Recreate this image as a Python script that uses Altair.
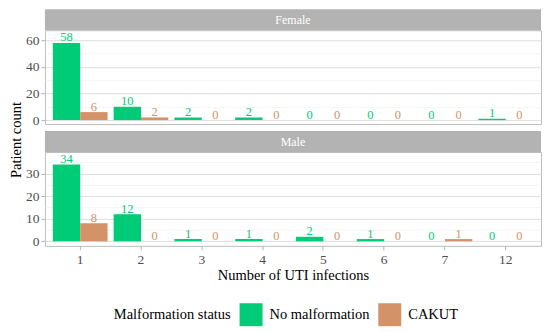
import altair as alt
import pandas as pd

# ---- data ----
infections = ["1", "2", "3", "4", "5", "6", "7", "12"]
statuses = ["No malformation", "CAKUT"]
colors = ["#00CC77", "#D39267"]

female_none = [58, 10, 2, 2, 0, 0, 0, 1]
female_cakut = [6, 2, 0, 0, 0, 0, 0, 0]
male_none = [34, 12, 1, 1, 2, 1, 0, 0]
male_cakut = [8, 0, 0, 0, 0, 0, 1, 0]

FONT = "Liberation Serif"
W = 497
H = 94


def make_df(none_vals, cakut_vals):
    rows = []
    for inf, a, b in zip(infections, none_vals, cakut_vals):
        rows.append({"infections": inf, "status": statuses[0], "count": a})
        rows.append({"infections": inf, "status": statuses[1], "count": b})
    return pd.DataFrame(rows)


def panel(df, label, domain, step, show_x, show_ytitle):
    maxv = domain[1]
    vals = [v for v in range(0, int(maxv) + 1, step // 2)]
    y_axis = alt.Axis(
        values=vals,
        labelExpr=f"datum.value % {step} === 0 ? datum.label : ''",
        tickOpacity={"condition": {"test": f"datum.value % {step} === 0", "value": 1}, "value": 0},
        gridColor={"condition": {"test": f"datum.value % {step} === 0", "value": "#DEDEDE"}, "value": "#EFEFEF"},
        gridWidth={"condition": {"test": f"datum.value % {step} === 0", "value": 1}, "value": 0.6},
        title="Patient count" if show_ytitle else None,
        titleX=-28,
        titleY=109.5,
        titleAngle=270,
        titleAlign="center",
        titleBaseline="middle",
    )
    if show_x:
        x_axis = alt.Axis(title="Number of UTI infections", labelAngle=0, bandPosition=0.5,
                          tickSize=4, labelPadding=3, titlePadding=2)
    else:
        x_axis = alt.Axis(title=None, labels=False, ticks=False, bandPosition=0.5)

    xenc = alt.X("infections:N", sort=infections,
                 scale=alt.Scale(domain=infections, paddingInner=0.1, paddingOuter=0.13),
                 axis=x_axis)
    xoff = alt.XOffset("status:N", sort=statuses, scale=alt.Scale(domain=statuses, paddingInner=0, paddingOuter=0))
    yenc = alt.Y("count:Q", scale=alt.Scale(domain=domain, nice=False, zero=False), axis=y_axis)
    cenc = alt.Color("status:N", sort=statuses,
                     scale=alt.Scale(domain=statuses, range=colors),
                     legend=alt.Legend(title="Malformation status", orient="none",
                                       legendX=69, legendY=273.5, direction="horizontal",
                                       titleOrient="left", symbolType="square", symbolSize=529,
                                       symbolStrokeWidth=0, labelFontSize=14.5, titleFontSize=14.5,
                                       titleFontWeight="normal", labelFont=FONT, titleFont=FONT,
                                       titleColor="#000000", labelColor="#000000",
                                       labelOffset=7, columnPadding=8, titlePadding=8,
                                       titleBaseline="middle", titleAnchor="middle"))

    base = alt.Chart(df)
    bars = base.mark_bar().encode(x=xenc, xOffset=xoff, y=yenc, y2=alt.datum(0), color=cenc)
    texts = base.mark_text(baseline="alphabetic", dy=-1.5, fontSize=12.5, font=FONT).encode(
        x=xenc, xOffset=xoff, y=yenc, color=cenc, text="count:Q")

    sdf = pd.DataFrame({"panel": [label]})
    strip = alt.Chart(sdf).mark_rect(color="#B3B3B3").encode(
        x=alt.value(0), x2=alt.value(W), y=alt.value(-21), y2=alt.value(0))
    stext = alt.Chart(sdf).mark_text(color="white", fontSize=12, font=FONT, baseline="middle").encode(
        x=alt.value(W / 2), y=alt.value(-10.5), text="panel:N")

    return alt.layer(strip, bars, texts, stext).properties(width=W, height=H)


top = panel(make_df(female_none, female_cakut), "Female", [-3.0, 67.5], 20, False, True)
bottom = panel(make_df(male_none, male_cakut), "Male", [-2.0, 39.5], 10, True, False)

chart = alt.vconcat(top, bottom, spacing=28, bounds="flush").resolve_scale(
    y="independent", color="shared", x="shared"
).properties(
    padding={"left": 0, "top": 0, "right": 0, "bottom": 0},
).configure_view(
    stroke="#BDBDBD", strokeWidth=1
).configure_axis(
    labelFont=FONT, titleFont=FONT, labelFontSize=13.5, titleFontSize=14.5,
    labelColor="#4D4D4D", titleColor="#000000", titleFontWeight="normal",
    domain=False, tickColor="#B3B3B3", tickSize=4, gridColor="#DEDEDE", labelPadding=2,
)

chart.save("out.html", embed_options={"renderer": "svg", "actions": False})
